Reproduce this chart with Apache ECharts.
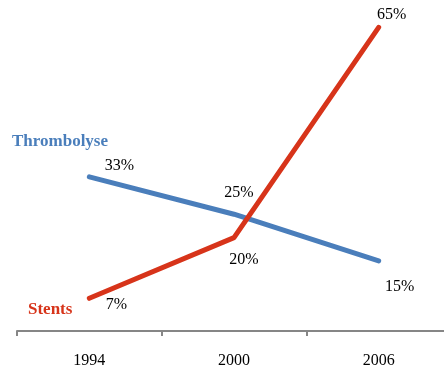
<!DOCTYPE html>
<html>
<head>
<meta charset="utf-8">
<script src="https://cdn.jsdelivr.net/npm/echarts@6/dist/echarts.min.js"></script>
<style>
  html, body { margin: 0; padding: 0; background: #fff; }
  #chart { width: 444px; height: 371px; }
</style>
</head>
<body>
<div id="chart"></div>
<script>
// Share of treatments by year (%)
const years = ['1994', '2000', '2006'];
const thrombolyse = [33, 25, 15];
const stents = [7, 20, 65];
const seriesNames = ['Thrombolyse', 'Stents'];

const blue = '#4a7ebb';
const red = '#d7341a';
const serif = '"Liberation Serif", "DejaVu Serif", serif';

// label placement per point: [position, dx, dy]
const blueLabelPos = [['top', 30, 2], ['top', 5, -8], ['bottom', 21, 13]];
const redLabelPos = [['bottom', 27, -7], ['bottom', 10, 9], ['top', 13, 0]];

function withLabels(values, placements) {
  return values.map((v, i) => ({
    value: v,
    label: { position: placements[i][0], offset: [placements[i][1], placements[i][2]] }
  }));
}

const labelStyle = {
  show: true,
  formatter: '{c}%',
  color: '#000',
  fontFamily: serif,
  fontSize: 16
};

const chart = echarts.init(document.getElementById('chart'));
chart.setOption({
  animation: false,
  grid: { left: 17, width: 434, top: 4, bottom: 40, containLabel: false, outerBoundsMode: 'none' },
  xAxis: {
    type: 'category',
    data: years,
    boundaryGap: true,
    axisLine: { lineStyle: { color: '#868686', width: 2 } },
    axisTick: { show: true, length: 5, lineStyle: { color: '#868686', width: 2 } },
    axisLabel: { color: '#000', fontFamily: serif, fontSize: 16, margin: 22 }
  },
  yAxis: {
    type: 'value',
    min: 0,
    max: 70,
    show: false,
    splitLine: { show: false }
  },
  series: [
    {
      name: seriesNames[0],
      type: 'line',
      data: withLabels(thrombolyse, blueLabelPos),
      symbol: 'circle',
      symbolSize: 0,
      showSymbol: true,
      itemStyle: { color: blue },
      lineStyle: { color: blue, width: 5, cap: 'round', join: 'round' },
      label: labelStyle
    },
    {
      name: seriesNames[1],
      type: 'line',
      data: withLabels(stents, redLabelPos),
      symbol: 'circle',
      symbolSize: 0,
      showSymbol: true,
      itemStyle: { color: red },
      lineStyle: { color: red, width: 5, cap: 'round', join: 'round' },
      label: labelStyle
    }
  ],
  graphic: [
    {
      type: 'text',
      left: 12,
      top: 133,
      style: {
        text: seriesNames[0],
        fill: blue,
        font: 'bold 17px ' + serif
      }
    },
    {
      type: 'text',
      left: 28,
      top: 301,
      style: {
        text: seriesNames[1],
        fill: red,
        font: 'bold 17px ' + serif
      }
    }
  ]
});
</script>
</body>
</html>
